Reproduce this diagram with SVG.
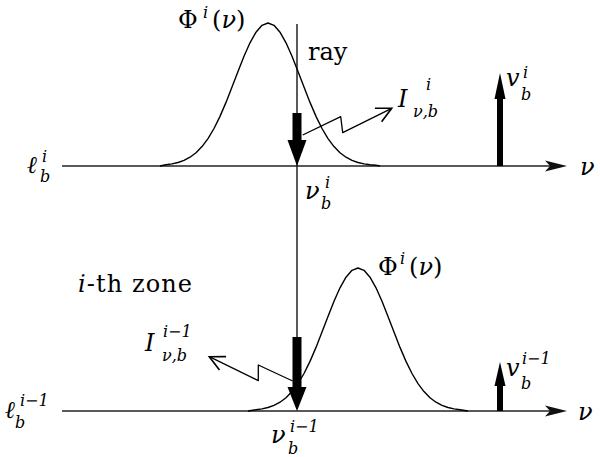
<svg xmlns="http://www.w3.org/2000/svg" width="600" height="457" viewBox="0 0 600 457" font-family="'DejaVu Serif', serif">
<style>
text{font-family:'DejaVu Serif',serif;fill:#000}
.m{font-size:24px}
.s{font-size:16px}
.it{font-style:italic}
.thin{fill:none;stroke:#000;stroke-width:1.3;stroke-linejoin:round}
.axis{fill:none;stroke:#222;stroke-width:1.6}
.curve{fill:none;stroke:#000;stroke-width:1.4;stroke-linejoin:round}
</style>
<defs>
<marker id="open" markerUnits="userSpaceOnUse" markerWidth="20" markerHeight="20" refX="0" refY="0" viewBox="-14 -8 16 16" orient="auto" overflow="visible">
<path d="M-12,-6 L0,0 L-12,6" fill="none" stroke="#000" stroke-width="1.3"/>
</marker>
</defs>
<rect width="600" height="457" fill="#fff"/>

<g id="connectors">
<line class="thin" x1="297" y1="24" x2="297" y2="405"/>
<path class="thin" d="M302.7,135 L340.7,116.7 L342.7,132.7 L391.7,108.3" marker-end="url(#open)"/>
<path class="thin" d="M292.7,381 L258.3,365 L258.3,380.7 L209.3,356.7" marker-end="url(#open)"/>
</g>

<g id="axis-top">
<line class="axis" x1="62" y1="166" x2="552" y2="166"/>
<path d="M567,166 L545,160.5 L550,166 L545,171.5 Z" fill="#111"/>
<text class="m it" x="580" y="175">ν</text>
<text class="m it" x="27" y="173">ℓ</text>
<text class="s it" x="42" y="162">i</text>
<text class="s it" x="40" y="182">b</text>
</g>

<g id="axis-bottom">
<line class="axis" x1="62" y1="411" x2="552" y2="411"/>
<path d="M567,411 L545,405.5 L550,411 L545,416.5 Z" fill="#111"/>
<text class="m it" x="578" y="420">ν</text>
<text class="m it" x="5" y="418">ℓ</text>
<text class="s it" x="20" y="406">i−1</text>
<text class="s it" x="15" y="428">b</text>
</g>

<g id="profile-top">
<polyline class="curve" points="160,166 166,164.8 172,163.9 178,162.5 184,160.4 190,157.2 196,152.8 202,146.6 208,138.6 214,128.5 220,116.4 226,102.4 232,87.1 238,71.4 244,56.2 250,42.8 256,32.2 262,25.3 268,23 274,25.3 280,32.2 286,42.8 292,56.2 298,71.4 304,87.1 310,102.4 316,116.4 322,128.5 328,138.6 334,146.6 340,152.8 346,157.2 352,160.4 358,162.5 364,163.9 370,164.8 376,165.3 380,166"/>
<text class="m" x="178" y="28">Φ</text>
<text class="s it" x="203" y="18">i</text>
<text class="m" x="212" y="28">(<tspan class="it">ν</tspan>)</text>
</g>

<g id="profile-bottom">
<polyline class="curve" points="248,411 256,409.8 262,408.9 268,407.5 274,405.4 280,402.2 286,397.8 292,391.6 298,383.6 304,373.5 310,361.4 316,347.4 322,332.1 328,316.4 334,301.2 340,287.8 346,277.2 352,270.3 358,268 364,270.3 370,277.2 376,287.8 382,301.2 388,316.4 394,332.1 400,347.4 406,361.4 412,373.5 418,383.6 424,391.6 430,397.8 436,402.2 442,405.4 448,407.5 454,408.9 460,409.8 468,411"/>
<text class="m" x="378" y="275">Φ</text>
<text class="s it" x="400" y="264">i</text>
<text class="m" x="409" y="275">(<tspan class="it">ν</tspan>)</text>
</g>

<g id="ray">
<text class="m" x="308" y="60">ray</text>
<rect x="292.5" y="113" width="9" height="28" fill="#000"/>
<path d="M287.5,140 L306.5,140 L297,166 Z" fill="#000"/>
<rect x="292.5" y="337" width="9" height="51" fill="#000"/>
<path d="M287.5,387 L306.5,387 L297,411 Z" fill="#000"/>
</g>

<g id="nu-top">
<text class="m it" x="305" y="199">ν</text>
<text class="s it" x="325" y="188">i</text>
<text class="s it" x="321" y="209">b</text>
</g>

<g id="nu-bottom">
<text class="m it" x="271" y="443">ν</text>
<text class="s it" x="290" y="432">i−1</text>
<text class="s it" x="288" y="454">b</text>
</g>

<g id="intensity-top">
<text class="m it" x="398" y="107">I</text>
<text class="s it" x="426" y="90">i</text>
<text class="s it" x="413" y="117">ν,b</text>
</g>

<g id="intensity-bottom">
<text class="m it" x="145" y="351">I</text>
<text class="s it" x="163" y="337">i−1</text>
<text class="s it" x="162" y="361">ν,b</text>
</g>

<g id="velocity-top">
<line x1="500" y1="166" x2="500" y2="96" stroke="#000" stroke-width="6"/>
<path d="M494.5,99 L505.5,99 L500,73 Z" fill="#000"/>
<text class="m it" x="506" y="86">v</text>
<text class="s it" x="523" y="78">i</text>
<text class="s it" x="521" y="100">b</text>
</g>

<g id="velocity-bottom">
<line x1="500" y1="411" x2="500" y2="383" stroke="#000" stroke-width="6"/>
<path d="M494.5,386 L505.5,386 L500,362 Z" fill="#000"/>
<text class="m it" x="506" y="376">v</text>
<text class="s it" x="522" y="364">i−1</text>
<text class="s it" x="521" y="389">b</text>
</g>

<g id="zone-label">
<text class="m" x="78" y="292" textLength="114"><tspan class="it">i</tspan>-th zone</text>
</g>
</svg>
